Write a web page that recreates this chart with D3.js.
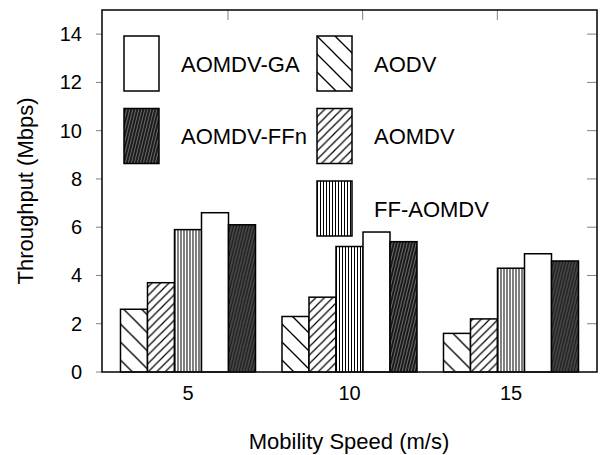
<!DOCTYPE html>
<html>
<head>
<meta charset="utf-8">
<script src="https://cdn.jsdelivr.net/npm/d3@7/dist/d3.min.js"></script>
<style>
  html, body { margin: 0; padding: 0; background: #fff; }
  svg { display: block; font-family: "Liberation Sans", Arial, sans-serif; }
</style>
</head>
<body>
<svg id="chart" width="600" height="455"></svg>
<script>
// Mobility speeds (m/s) on the x axis
const categories = ["5", "10", "15"];
// Routing protocols, in bar order within each group
const seriesNames = ["AODV", "AOMDV", "FF-AOMDV", "AOMDV-GA", "AOMDV-FFn"];
// Throughput (Mbps) per protocol, one value per speed
const aodv = [2.6, 2.3, 1.6];
const aomdv = [3.7, 3.1, 2.2];
const ffAomdv = [5.9, 5.2, 4.3];
const aomdvGa = [6.6, 5.8, 4.9];
const aomdvFfn = [6.1, 5.4, 4.6];
const yTicks = [0, 2, 4, 6, 8, 10, 12, 14];
const topTicks = [1, 2, 3];
// Legend layout: two columns
const legendCols = [["AOMDV-GA", "AOMDV-FFn"], ["AODV", "AOMDV", "FF-AOMDV"]];

const seriesValues = {
  "AODV": aodv,
  "AOMDV": aomdv,
  "FF-AOMDV": ffAomdv,
  "AOMDV-GA": aomdvGa,
  "AOMDV-FFn": aomdvFfn
};

const svg = d3.select("#chart");
const plotL = 102, plotR = 597, plotT = 10, plotB = 372;

// ---- hatch patterns ----
const defs = svg.append("defs");

function hatch(id, w, h, bg, lines, stroke, sw) {
  const p = defs.append("pattern")
    .attr("id", id)
    .attr("patternUnits", "userSpaceOnUse")
    .attr("width", w).attr("height", h);
  p.append("rect").attr("width", w).attr("height", h).attr("fill", bg);
  lines.forEach(l => {
    p.append("line")
      .attr("x1", l[0]).attr("y1", l[1]).attr("x2", l[2]).attr("y2", l[3])
      .attr("stroke", stroke).attr("stroke-width", sw)
      .attr("stroke-linecap", "square");
  });
}
// wide "\" hatch
hatch("p-aodv", 18, 18, "#fff",
  [[0, 0, 18, 18], [-9, 9, 9, 27], [9, -9, 27, 9]], "#000", 1.3);
// narrow "/" hatch
hatch("p-aomdv", 8.5, 8.5, "#fff",
  [[0, 8.5, 8.5, 0], [-4.25, 4.25, 4.25, -4.25], [4.25, 12.75, 12.75, 4.25]], "#000", 1.2);
// vertical lines
hatch("p-ffaomdv", 3, 10, "#fff", [[0.5, -1, 0.5, 11]], "#000", 1);
// dark with fine steep light streaks
hatch("p-ffn", 3, 12, "#1a1a1a",
  [[0, 12, 3, 0], [-3, 12, 0, 0], [3, 12, 6, 0]], "#b0b0b0", 0.55);

const fills = {
  "AODV": "url(#p-aodv)",
  "AOMDV": "url(#p-aomdv)",
  "FF-AOMDV": "url(#p-ffaomdv)",
  "AOMDV-GA": "#fff",
  "AOMDV-FFn": "url(#p-ffn)"
};

// ---- scales ----
const x0 = d3.scaleBand().domain(categories).range([plotL, plotR])
  .paddingInner(0.164).paddingOuter(0.1145);
const x1 = d3.scaleBand().domain(seriesNames).range([0, x0.bandwidth()]).padding(0);
const y = d3.scaleLinear().domain([0, 15]).range([plotB, plotT]);
const xTop = d3.scaleLinear().domain([0.065, 3.74]).range([plotL, plotR]);

// ---- bars ----
const groups = svg.append("g").selectAll("g")
  .data(categories)
  .join("g")
  .attr("transform", d => `translate(${x0(d)},0)`);

groups.selectAll("rect")
  .data((c, i) => seriesNames.map(s => ({ s, v: seriesValues[s][i] })))
  .join("rect")
  .attr("x", d => x1(d.s))
  .attr("y", d => y(d.v))
  .attr("width", x1.bandwidth())
  .attr("height", d => y(0) - y(d.v))
  .attr("fill", d => fills[d.s])
  .attr("stroke", "#000")
  .attr("stroke-width", 1.5);

// ---- tick marks ----
const tickColor = "#808080";
const ticks = svg.append("g").attr("stroke", tickColor).attr("stroke-width", 1);
yTicks.forEach(t => {
  ticks.append("line").attr("x1", plotL - 6).attr("x2", plotL)
    .attr("y1", y(t)).attr("y2", y(t));
  if (t > 0) {
    ticks.append("line").attr("x1", plotR - 10).attr("x2", plotR)
      .attr("y1", y(t)).attr("y2", y(t));
  }
});
topTicks.forEach(t => {
  ticks.append("line").attr("x1", xTop(t)).attr("x2", xTop(t))
    .attr("y1", plotT).attr("y2", plotT + 10);
});

// ---- frame ----
svg.append("rect")
  .attr("x", plotL).attr("y", plotT)
  .attr("width", plotR - plotL).attr("height", plotB - plotT)
  .attr("fill", "none").attr("stroke", "#111").attr("stroke-width", 1.6);

// ---- tick labels ----
svg.append("g").selectAll("text")
  .data(yTicks)
  .join("text")
  .attr("x", 82)
  .attr("y", d => y(d) + 7)
  .attr("text-anchor", "end")
  .attr("font-size", 20)
  .attr("fill", "#000")
  .text(d => d);

svg.append("g").selectAll("text")
  .data(categories)
  .join("text")
  .attr("x", d => x0(d) + x0.bandwidth() / 2)
  .attr("y", 400)
  .attr("text-anchor", "middle")
  .attr("font-size", 20)
  .attr("fill", "#000")
  .text(d => d);

// ---- axis titles ----
svg.append("text")
  .attr("x", (plotL + plotR) / 2 - 0.5)
  .attr("y", 449)
  .attr("text-anchor", "middle")
  .attr("font-size", 22)
  .attr("fill", "#000")
  .text("Mobility Speed (m/s)");

svg.append("text")
  .attr("transform", `translate(33,${(plotT + plotB) / 2}) rotate(-90)`)
  .attr("text-anchor", "middle")
  .attr("font-size", 22)
  .attr("fill", "#000")
  .text("Throughput (Mbps)");

// ---- legend ----
const colX = [124, 317];
const rowY = [36, 108.5, 181];
const boxW = 35, boxH = 55;
legendCols.forEach((col, ci) => {
  col.forEach((name, ri) => {
    const g = svg.append("g")
      .attr("transform", `translate(${colX[ci]},${rowY[ri]})`);
    g.append("rect")
      .attr("width", boxW).attr("height", boxH)
      .attr("fill", fills[name])
      .attr("stroke", "#000").attr("stroke-width", 1.5);
    g.append("text")
      .attr("x", boxW + 22)
      .attr("y", boxH / 2 + 8)
      .attr("font-size", 22)
      .attr("fill", "#000")
      .text(name);
  });
});
</script>
</body>
</html>
